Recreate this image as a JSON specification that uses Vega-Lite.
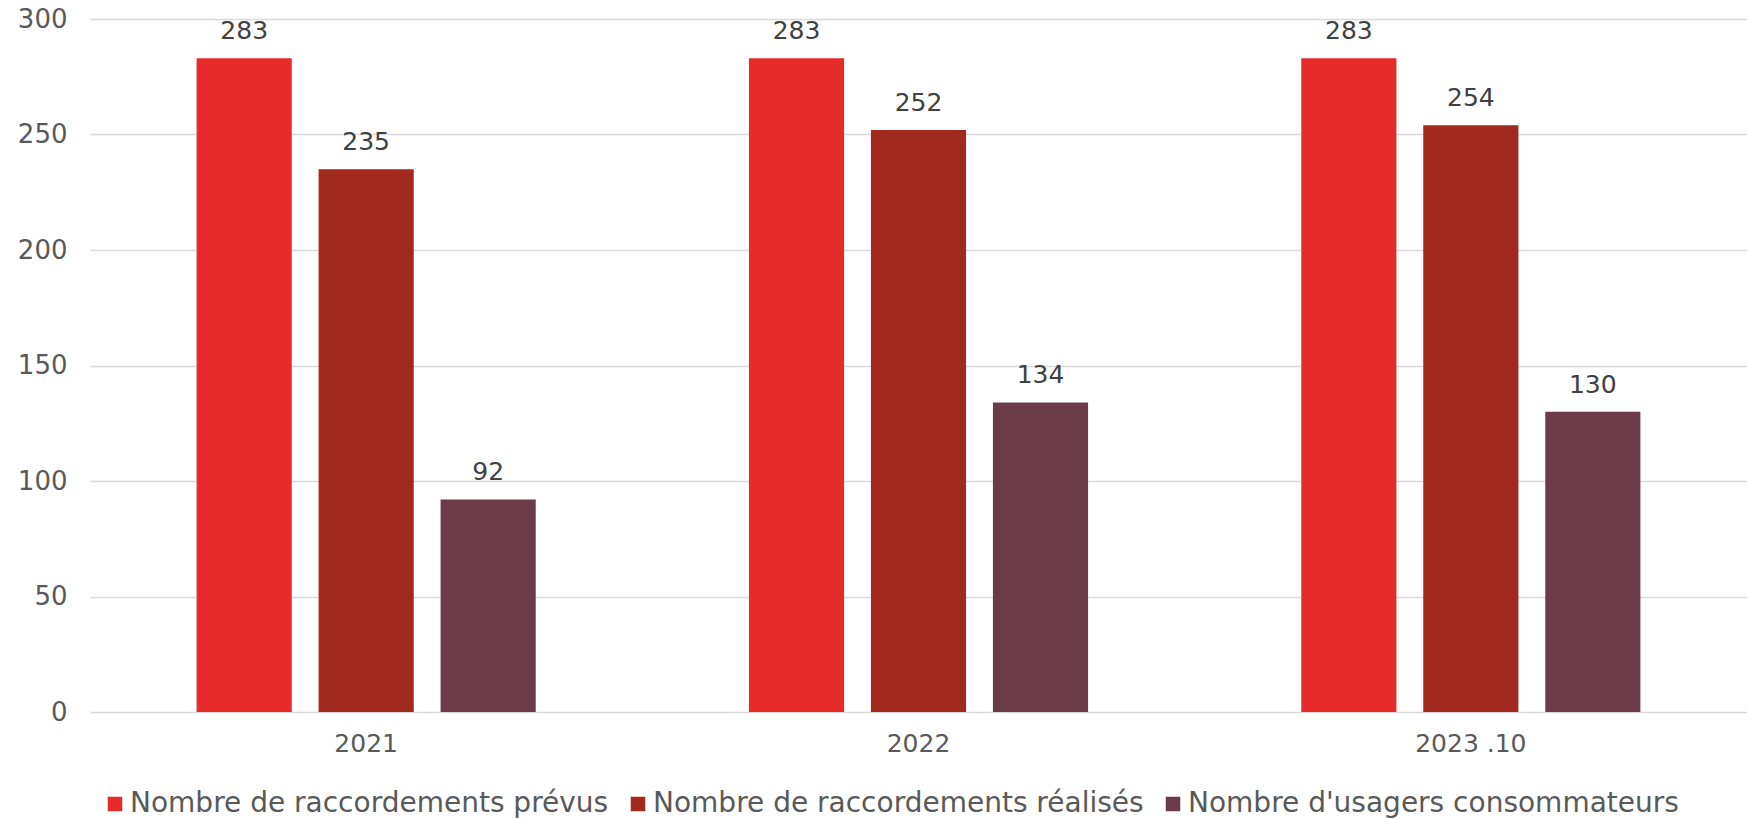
{
  "$schema": "https://vega.github.io/schema/vega-lite/v6.json",
  "width": 1657,
  "height": 693,
  "autosize": {"type": "none"},
  "padding": {"left": 90, "top": 19, "right": 0, "bottom": 107},
  "background": "white",
  "config": {
    "font": "DejaVu Sans",
    "view": {"stroke": null},
    "axis": {"labelColor": "#595959", "labelFont": "DejaVu Sans"}
  },
  "data": {
    "values": [
      {"periode": "2021", "serie": "Nombre de raccordements prévus", "valeur": 283},
      {"periode": "2021", "serie": "Nombre de raccordements réalisés", "valeur": 235},
      {"periode": "2021", "serie": "Nombre d'usagers consommateurs", "valeur": 92},
      {"periode": "2022", "serie": "Nombre de raccordements prévus", "valeur": 283},
      {"periode": "2022", "serie": "Nombre de raccordements réalisés", "valeur": 252},
      {"periode": "2022", "serie": "Nombre d'usagers consommateurs", "valeur": 134},
      {"periode": "2023 .10", "serie": "Nombre de raccordements prévus", "valeur": 283},
      {"periode": "2023 .10", "serie": "Nombre de raccordements réalisés", "valeur": 254},
      {"periode": "2023 .10", "serie": "Nombre d'usagers consommateurs", "valeur": 130}
    ]
  },
  "encoding": {
    "x": {
      "field": "periode", "type": "nominal", "sort": null,
      "scale": {"paddingInner": 0.386, "paddingOuter": 0.193},
      "axis": {"title": null, "labelAngle": 0, "domain": false, "ticks": false, "labelFontSize": 25, "labelPadding": 19}
    },
    "xOffset": {
      "field": "serie", "type": "nominal",
      "sort": ["Nombre de raccordements prévus", "Nombre de raccordements réalisés", "Nombre d'usagers consommateurs"],
      "scale": {"paddingInner": 0.22, "paddingOuter": 0}
    },
    "y": {
      "field": "valeur", "type": "quantitative",
      "scale": {"domain": [0, 300], "nice": false},
      "axis": {"title": null, "values": [0, 50, 100, 150, 200, 250, 300], "domain": false, "ticks": false, "gridColor": "#d9d9d9", "gridWidth": 1.5, "labelFontSize": 26, "labelPadding": 23}
    }
  },
  "layer": [
    {
      "mark": {"type": "bar"},
      "encoding": {
        "color": {
          "field": "serie", "type": "nominal",
          "sort": ["Nombre de raccordements prévus", "Nombre de raccordements réalisés", "Nombre d'usagers consommateurs"],
          "scale": {"range": ["#E72B2A", "#A2291E", "#6C3B4A"]},
          "legend": {
            "title": null, "orient": "none", "direction": "horizontal",
            "legendX": 11, "legendY": 771,
            "symbolType": "square", "symbolSize": 210, "symbolStrokeWidth": 0,
            "labelFontSize": 28, "labelColor": "#595959", "labelOffset": 1, "columnPadding": 15,
            "labelLimit": 700
          }
        }
      }
    },
    {
      "mark": {"type": "text", "baseline": "bottom", "dy": -14, "fontSize": 25, "color": "#404040"},
      "encoding": {"text": {"field": "valeur", "type": "quantitative"}}
    }
  ]
}
